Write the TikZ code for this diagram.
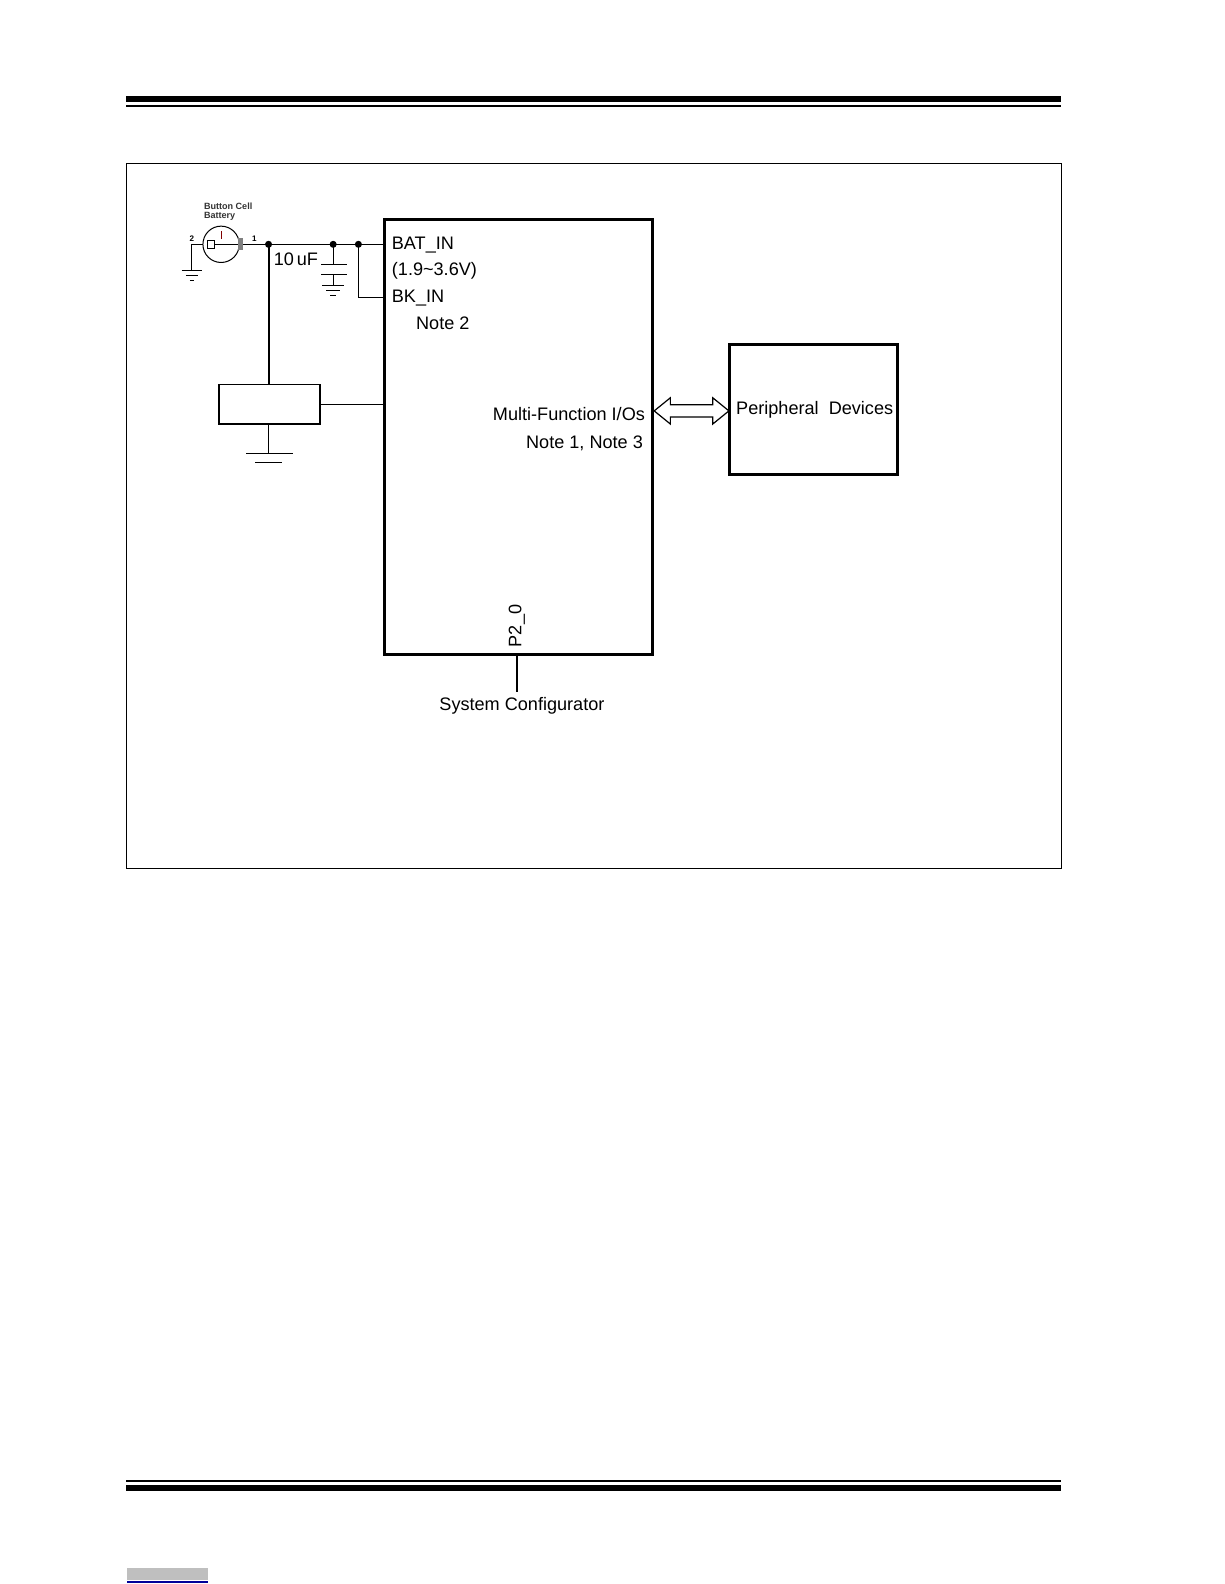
\documentclass[tikz,border=0pt]{standalone}
\usepackage{fontspec}
\setmainfont{Liberation Sans}
\begin{document}
\begin{tikzpicture}[x=1bp,y=-1bp,
  lbl/.style={inner sep=0pt,font=\fontsize{18}{20}\selectfont},
  wire/.style={line width=1.3pt},
  dot/.style={circle,fill,inner sep=0pt,minimum size=7bp}]
\useasboundingbox (0,0) rectangle (1212.5,1569);
% header / footer
\fill (125,95) rectangle (1051,101);
\fill (125,104) rectangle (1051,106);
\fill (125,1466) rectangle (1051,1468);
\fill (125,1471) rectangle (1051,1477);
\fill[gray!50] (126,1553) rectangle (206,1565);
\draw[blue!60!black,line width=1pt] (126,1567) -- (206,1567);
% frame
\draw[line width=0.8pt] (125,162) rectangle (1051,860);
% chip
\node[draw,line width=3pt,minimum width=265bp,minimum height=431bp,inner sep=0pt] (chip) at (513.5,432.5) {};
\node[draw,line width=3pt,minimum width=166bp,minimum height=129bp,inner sep=0pt] (per) at (806,405.5) {};
\node[lbl] at (807,406) {Peripheral\ \ Devices};
\node[draw,line width=1.5pt,minimum width=100bp,minimum height=39bp,inner sep=0pt] (res) at (267,400.5) {};
% texts
\node[lbl,anchor=west] at (388,243) {BAT\_IN};
\node[lbl,anchor=west] at (388,268) {(1.9\textasciitilde3.6V)};
\node[lbl,anchor=west] at (388,295) {BK\_IN};
\node[lbl,anchor=west] at (412,320) {Note 2};
\node[lbl,anchor=west] at (271,257) {10\,uF};
\node[lbl,anchor=east] at (639,410) {Multi-Function I/Os};
\node[lbl,anchor=east] at (637,439) {Note 1, Note 3};
\node[lbl,rotate=90] at (512,620) {P2\_0};
\node[lbl] (sc) at (517,699) {System Configurator};
\node[inner sep=0pt,align=left,font=\fontsize{9}{9}\bfseries,text=black!80] at (226,210) {Button Cell\\Battery};
\node[inner sep=0pt,font=\fontsize{8}{8}\bfseries] at (190,236) {2};
\node[inner sep=0pt,font=\fontsize{8}{8}\bfseries] at (252,236) {1};
% wires
\draw[wire] (237,242) -- (381,242);
\draw[wire] (190,242) -- (201,242);
\draw[wire] (190,242) -- (190,268);
\draw[line width=1pt] (180,268)--(200,268) (184,273)--(196,273) (188,278)--(192,278);
\draw[line width=1pt] (219,242) circle (18);
\draw[line width=1pt] (206,238) rectangle (212,246);
\draw[line width=1pt] (212,242) -- (236,242);
\fill[gray] (236,236) rectangle (241,248);
\draw[line width=1pt,red!50!black] (219,229) -- (219,237);
\draw[line width=2pt] (266,242) -- (266,381);
\draw[wire] (266,420) -- (266,449);
\draw[wire] (244,449)--(290,449) (253,458)--(279,458);
\draw[wire] (317,401) -- (381,401);
\draw[wire] (330,242) -- (330,262) (318,262)--(344,262) (318,272)--(344,272) (330,272)--(330,283);
\draw[wire] (319,283)--(341,283) (323,288)--(337,288) (327,293)--(333,293);
\draw[wire] (355,242) -- (355,295) -- (381,295);
\node[dot] at (266,242) {}; \node[dot] at (330,242) {}; \node[dot] at (355,242) {};
\draw[wire] (512,648) -- (512,685);
% double arrow
\draw[line width=1.2pt,fill=white] (648,407)--(664,394)--(664,401)--(706,401)--(706,394)--(722,407)--(706,420)--(706,413)--(664,413)--(664,420)--cycle;
\end{tikzpicture}
\end{document}
